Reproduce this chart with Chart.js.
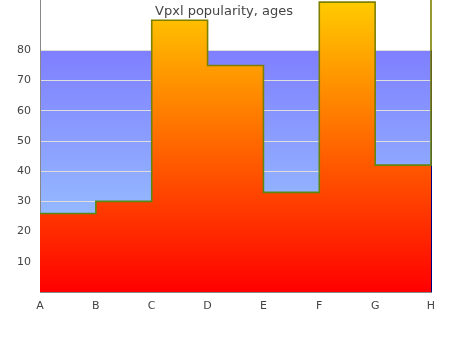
<!DOCTYPE html>
<html>
<head>
<meta charset="utf-8">
<script src="https://cdn.jsdelivr.net/npm/chart.js@4/dist/chart.umd.min.js"></script>
<style>
  html, body { margin: 0; padding: 0; background: #fff; }
  #wrap { width: 450px; height: 350px; position: relative; }
</style>
</head>
<body>
<div id="wrap"><canvas id="chart"></canvas></div>
<script>
const categories = ['A', 'B', 'C', 'D', 'E', 'F', 'G', 'H'];
const popularity = [26, 30, 90, 75, 33, 96, 42, 110];
const yTicks = [10, 20, 30, 40, 50, 60, 70, 80];
const chartTitle = 'Vpxl popularity, ages';

// blue band behind the grid, from 0 up to the last tick
const plotBackground = {
    id: 'plotBackground',
    beforeDraw(chart) {
        const { ctx, scales: { x, y } } = chart;
        const top = y.getPixelForValue(yTicks[yTicks.length - 1]);
        const bottom = y.getPixelForValue(0);
        const g = ctx.createLinearGradient(0, top, 0, bottom);
        g.addColorStop(0, '#7f7fff');
        g.addColorStop(1, '#9fd4ff');
        ctx.save();
        ctx.fillStyle = g;
        ctx.fillRect(x.left, top, x.right - x.left, bottom - top);
        ctx.strokeStyle = '#000080';
        ctx.lineWidth = 1;
        ctx.beginPath();
        ctx.moveTo(x.right + 0.5, top);
        ctx.lineTo(x.right + 0.5, bottom);
        ctx.stroke();
        ctx.restore();
    }
};

const titleText = {
    id: 'titleText',
    afterDraw(chart) {
        const ctx = chart.ctx;
        ctx.save();
        ctx.font = '13px "DejaVu Sans"';
        ctx.fillStyle = '#444';
        ctx.textAlign = 'center';
        ctx.textBaseline = 'middle';
        ctx.fillText(chartTitle, 224, 12);
        ctx.restore();
    }
};

function fillGradient(context) {
    const { ctx, chartArea } = context.chart;
    if (!chartArea) return '#ff6000';
    const g = ctx.createLinearGradient(0, chartArea.bottom, 0, 0);
    g.addColorStop(0, '#ff0000');
    g.addColorStop(1, '#ffcc00');
    return g;
}

function borderGradient(context) {
    const { ctx, chartArea } = context.chart;
    if (!chartArea) return '#6f8500';
    const g = ctx.createLinearGradient(0, 0, 0, chartArea.bottom);
    g.addColorStop(0, '#808000');
    g.addColorStop(0.35, '#787f00');
    g.addColorStop(1, '#3f8f20');
    return g;
}

new Chart(document.getElementById('chart'), {
    type: 'line',
    data: {
        labels: categories,
        datasets: [{
            data: popularity,
            stepped: 'before',
            fill: 'origin',
            backgroundColor: fillGradient,
            borderColor: borderGradient,
            borderWidth: 1.6,
            pointRadius: 0,
            clip: false
        }]
    },
    options: {
        responsive: true,
        maintainAspectRatio: false,
        animation: false,
        layout: { padding: { top: 0, right: 19, bottom: 0, left: 0 } },
        plugins: {
            legend: { display: false },
            tooltip: { enabled: false }
        },
        scales: {
            x: {
                offset: false,
                grid: { display: false, drawTicks: false },
                border: { color: '#888', width: 1 },
                ticks: { color: '#444', font: { family: 'DejaVu Sans', size: 11 }, padding: 8, maxRotation: 0 },
                afterFit: s => { s.height = 58; }
            },
            y: {
                min: 0,
                max: 96.7,
                ticks: { stepSize: 10, color: '#444', font: { family: 'DejaVu Sans', size: 11 }, padding: 9 },
                afterBuildTicks: s => { s.ticks = s.ticks.filter(t => yTicks.includes(t.value)); },
                afterFit: s => { s.paddingTop = 0; s.width = 40; },
                grid: { color: '#dddddd', drawTicks: false },
                border: { color: '#888', width: 1 }
            }
        }
    },
    plugins: [plotBackground, titleText]
});
</script>
</body>
</html>
